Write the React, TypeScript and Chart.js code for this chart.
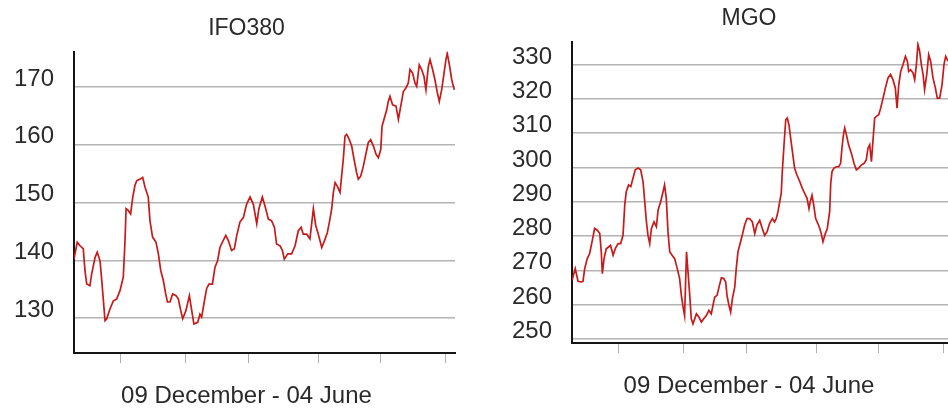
import React, { useEffect, useRef } from 'react';
import { Chart, registerables } from 'chart.js';

Chart.register(...registerables);

const FONT = '"Liberation Sans", Arial, Helvetica, sans-serif';
const AXIS_LABEL = '09 December - 04 June';
// x positions in days since 09 December; ticks mark the month boundaries
const X_MIN = 0;
const X_MAX = 177;
const MONTH_TICK_DAYS = [21.4, 52.0, 81.0, 113.6, 142.4, 172.4];

const IFO_TITLE = 'IFO380';
const IFO_Y_TICKS = [130, 140, 150, 160, 170];
const IFO_DAYS = [
  0, 1.5, 2.8, 4.3, 5.1, 5.9, 7.4, 8.2, 9.8, 10.8,
  12.1, 12.9, 13.6, 14.4, 15.2, 16.7, 18.3, 19.8, 21.4, 22.9,
  23.7, 24.2, 25.2, 26.3, 27.3, 28.3, 29.1, 30.7, 31.9, 33.0,
  34.5, 35.3, 36.5, 38.1, 39.2, 40.3, 41.5, 42.6, 43.4, 44.6,
  45.8, 47.4, 48.5, 49.6, 50.5, 52.0, 53.6, 54.7, 55.7, 57.5,
  58.5, 59.3, 60.5, 61.6, 62.7, 64.3, 65.5, 66.7, 67.8, 68.9,
  70.5, 71.7, 73.2, 74.5, 75.6, 77.1, 78.7, 80.2, 81.8, 83.3,
  84.9, 85.9, 87.5, 88.7, 90.3, 91.8, 93.1, 94.1, 95.7, 96.8,
  97.7, 99.3, 101.1, 102.7, 104.2, 105.5, 106.5, 108.1, 109.6, 111.2,
  112.3, 113.5, 115.1, 116.6, 117.7, 118.6, 119.7, 120.5, 121.3, 122.3,
  123.6, 124.4, 125.1, 125.9, 126.7, 127.9, 129.0, 130.1, 131.3, 132.1,
  133.2, 134.4, 135.7, 136.7, 137.8, 139.1, 140.3, 141.4, 142.5, 143.1,
  144.0, 145.3, 146.0, 146.8, 148.0, 149.6, 150.7, 151.5, 152.2, 153.0,
  154.2, 155.3, 156.1, 157.3, 158.4, 159.2, 160.4, 161.5, 162.6, 163.5,
  164.6, 165.4, 166.6, 167.7, 168.8, 169.7, 170.8, 171.9, 172.8, 173.4,
  174.4, 175.5, 176.7,
];
const IFO_VALUES = [
  140.2, 143.1, 142.5, 142.0, 138.2, 135.9, 135.6, 137.6, 140.5, 141.4,
  139.9, 136.5, 133.3, 129.6, 129.9, 131.6, 133.0, 133.3, 134.8, 137.1,
  143.4, 148.9, 148.6, 148.0, 150.9, 152.9, 153.7, 154.0, 154.3, 152.6,
  150.9, 146.8, 144.0, 143.1, 141.1, 138.2, 136.5, 134.2, 132.8, 132.8,
  134.2, 133.9, 133.3, 131.3, 129.9, 131.3, 133.9, 131.3, 129.0, 129.3,
  130.7, 130.2, 132.8, 135.1, 135.9, 135.9, 138.8, 139.9, 142.2, 143.1,
  144.3, 143.4, 141.7, 142.0, 144.3, 146.6, 147.4, 149.7, 150.9, 149.7,
  146.3, 148.9, 150.9, 149.4, 147.1, 146.8, 145.7, 142.8, 142.5, 141.7,
  140.2, 141.1, 141.1, 142.5, 145.1, 145.7, 144.5, 144.5, 143.7, 148.9,
  146.0, 144.5, 142.2, 143.6, 144.8, 146.5, 148.8, 151.7, 153.4, 152.8,
  151.7, 154.8, 157.4, 161.4, 161.7, 160.8, 159.7, 157.4, 155.1, 154.0,
  154.5, 156.2, 158.5, 160.3, 160.8, 159.7, 158.3, 157.7, 159.1, 163.1,
  164.3, 166.0, 167.4, 168.3, 166.8, 166.6, 164.3, 166.0, 167.4, 169.1,
  169.7, 170.6, 172.9, 172.3, 170.6, 170.0, 173.7, 172.9, 171.7, 169.4,
  173.4, 174.6, 172.9, 171.1, 168.9, 167.4, 169.4, 172.3, 174.6, 175.7,
  173.7, 171.1, 169.4,
];

const MGO_TITLE = 'MGO';
const MGO_Y_TICKS = [250, 260, 270, 280, 290, 300, 310, 320, 330];
const MGO_DAYS = [
  0, 1.5, 2.8, 4.3, 5.1, 5.9, 7.1, 8.2, 9.3, 10.5,
  11.8, 12.9, 13.6, 14.1, 14.9, 15.9, 17.0, 17.9, 19.1, 20.1,
  21.4, 22.6, 23.7, 24.5, 25.2, 26.3, 27.3, 28.3, 29.4, 30.7,
  31.9, 33.0, 33.8, 34.5, 35.3, 36.1, 36.9, 38.1, 39.2, 40.0,
  41.2, 42.3, 43.0, 43.8, 44.6, 45.4, 46.5, 47.7, 48.9, 50.0,
  50.8, 51.6, 52.3, 53.2, 53.9, 54.7, 55.4, 56.2, 57.8, 59.0,
  60.1, 61.2, 62.4, 63.6, 64.7, 65.5, 66.3, 67.4, 68.3, 69.4,
  70.5, 71.4, 72.0, 72.9, 73.7, 74.5, 75.6, 76.3, 77.1, 77.9,
  79.1, 80.2, 81.3, 82.5, 83.8, 84.9, 85.9, 87.2, 88.4, 89.5,
  90.6, 91.8, 93.1, 94.1, 94.9, 95.7, 96.5, 97.2, 97.7, 98.5,
  99.3, 100.0, 100.8, 101.6, 102.4, 103.4, 104.5, 105.8, 107.0, 108.1,
  109.2, 110.1, 110.7, 111.5, 112.3, 113.2, 114.3, 115.1, 115.8, 116.6,
  117.7, 118.6, 119.7, 120.2, 120.8, 121.7, 122.8, 123.9, 124.8, 125.4,
  126.1, 126.7, 127.5, 128.5, 129.8, 131.0, 132.1, 133.2, 134.4, 135.7,
  136.7, 137.5, 138.3, 139.1, 139.8, 140.6, 141.4, 142.5, 143.4, 144.5,
  145.6, 146.8, 148.0, 149.1, 150.2, 151.0, 151.8, 152.7, 153.8, 154.9,
  155.8, 156.4, 157.3, 158.4, 159.2, 160.0, 160.7, 161.5, 162.3, 163.1,
  163.8, 164.8, 165.7, 166.6, 167.7, 168.8, 169.7, 170.8, 171.9, 172.8,
  173.6, 174.7,
];
const MGO_VALUES = [
  267.0, 270.5, 266.8, 266.6, 266.8, 270.5, 273.4, 274.9, 278.3, 282.2,
  281.7, 280.7, 275.4, 269.0, 273.4, 276.3, 276.8, 277.3, 274.4, 276.3,
  277.8, 277.8, 280.2, 289.0, 292.9, 294.9, 294.4, 296.8, 299.3, 299.8,
  299.3, 295.9, 290.0, 284.6, 280.2, 277.8, 282.2, 284.1, 282.7, 287.6,
  290.0, 292.9, 294.9, 291.0, 281.2, 275.4, 274.4, 273.4, 270.5, 267.6,
  262.7, 259.3, 256.8, 275.4, 269.5, 262.7, 255.9, 254.4, 257.3, 256.3,
  254.9, 255.9, 256.8, 258.3, 257.3, 259.8, 262.2, 262.7, 265.1, 267.8,
  267.6, 266.6, 262.7, 259.8, 257.8, 261.7, 265.1, 270.5, 275.4, 277.3,
  280.2, 283.2, 285.1, 285.1, 284.1, 280.7, 283.2, 284.6, 282.2, 280.2,
  281.2, 283.7, 285.1, 284.1, 285.1, 287.1, 290.0, 292.4, 298.8, 306.6,
  313.9, 314.4, 312.4, 308.5, 304.6, 299.8, 297.8, 295.9, 293.9, 292.4,
  291.0, 288.0, 290.0, 291.9, 289.0, 285.1, 283.5, 282.2, 280.7, 278.3,
  280.7, 282.2, 287.1, 295.4, 298.8, 299.8, 300.2, 300.2, 301.2, 305.6,
  309.5, 311.5, 309.5, 306.6, 304.1, 301.2, 299.3, 299.8, 300.7, 301.2,
  302.2, 305.6, 306.6, 301.7, 307.6, 314.4, 314.9, 315.4, 317.3, 320.2,
  323.2, 326.1, 327.1, 325.6, 323.2, 317.3, 324.1, 328.0, 330.0, 332.4,
  331.0, 328.0, 328.5, 327.6, 325.6, 330.0, 335.9, 333.9, 330.0, 327.1,
  322.7, 327.1, 332.9, 331.0, 326.1, 323.2, 320.2, 320.2, 324.1, 330.0,
  332.4, 331.0,
];

type Props = {
  title: string;
  days: number[];
  values: number[];
  yMin: number;
  yMax: number;
  yTicks: number[];
  width: number;
  padLeft: number;
  padRight: number;
  yWidth: number;
  labelPad: number;
  left: number;
  top: number;
};

function LineChart(p: Props) {
  const ref = useRef<HTMLCanvasElement>(null);
  useEffect(() => {
    const n = Math.min(p.days.length, p.values.length);
    const pts = [];
    for (let i = 0; i < n; i++) pts.push({ x: p.days[i], y: p.values[i] });
    const chart = new Chart(ref.current as HTMLCanvasElement, {
      type: 'line',
      data: {
        datasets: [
          {
            data: pts,
            borderColor: '#c81a1a',
            borderWidth: 1.7,
            pointRadius: 0,
            tension: 0,
            fill: false,
          },
        ],
      },
      options: {
        responsive: false,
        maintainAspectRatio: false,
        animation: false,
        events: [],
        layout: { padding: { left: p.padLeft, right: p.padRight, top: 0, bottom: 0 } },
        plugins: {
          legend: { display: false },
          tooltip: { enabled: false },
          title: {
            display: true,
            text: p.title,
            color: '#2a2a2a',
            font: { family: FONT, size: 23, weight: 'normal' as any, lineHeight: 1.2 },
            padding: { top: 15, bottom: 9 },
          },
          subtitle: {
            display: true,
            position: 'bottom',
            text: AXIS_LABEL,
            color: '#2a2a2a',
            font: { family: FONT, size: 24, weight: 'normal' as any, lineHeight: 1.1 },
            padding: { top: 20.6, bottom: 0 },
          },
        },
        scales: {
          x: {
            type: 'linear',
            min: X_MIN,
            max: X_MAX,
            afterBuildTicks: (s: any) => {
              s.ticks = MONTH_TICK_DAYS.map((v) => ({ value: v }));
            },
            afterFit: (s: any) => {
              s.height = 10;
            },
            grid: {
              drawOnChartArea: false,
              drawTicks: true,
              tickLength: 10,
              color: '#b0b0b0',
              lineWidth: 1,
            },
            border: { display: true, color: '#151515', width: 2 },
            ticks: { display: false },
          },
          y: {
            type: 'linear',
            min: p.yMin,
            max: p.yMax,
            afterBuildTicks: (s: any) => {
              s.ticks = p.yTicks.map((v) => ({ value: v }));
            },
            afterFit: (s: any) => {
              s.width = p.yWidth;
            },
            grid: { color: '#b4b4b4', lineWidth: 1.5, drawTicks: false },
            border: { display: true, color: '#151515', width: 2 },
            ticks: {
              color: '#2a2a2a',
              font: { family: FONT, size: 24 },
              mirror: true,
              padding: p.labelPad,
              labelOffset: -7.5,
            },
          },
        },
      } as any,
    });
    return () => chart.destroy();
  }, []);
  return (
    <canvas
      ref={ref}
      width={p.width}
      height={410}
      style={{ position: 'absolute', left: p.left, top: p.top, width: p.width, height: 410, display: 'block' }}
    />
  );
}

export default function App() {
  return (
    <div
      style={{
        position: 'fixed',
        left: 0,
        top: 0,
        width: 948,
        height: 410,
        overflow: 'hidden',
        background: '#ffffff',
      }}
    >
      <LineChart
        title={IFO_TITLE}
        days={IFO_DAYS}
        values={IFO_VALUES}
        yMin={124}
        yMax={176}
        yTicks={IFO_Y_TICKS}
        width={474}
        padLeft={38}
        padRight={19}
        yWidth={36}
        labelPad={-60}
        left={0}
        top={0}
      />
      <LineChart
        title={MGO_TITLE}
        days={MGO_DAYS}
        values={MGO_VALUES}
        yMin={248.8}
        yMax={336.7}
        yTicks={MGO_Y_TICKS}
        width={520}
        padLeft={71}
        padRight={41}
        yWidth={27}
        labelPad={-60}
        left={474}
        top={-10}
      />
    </div>
  );
}
